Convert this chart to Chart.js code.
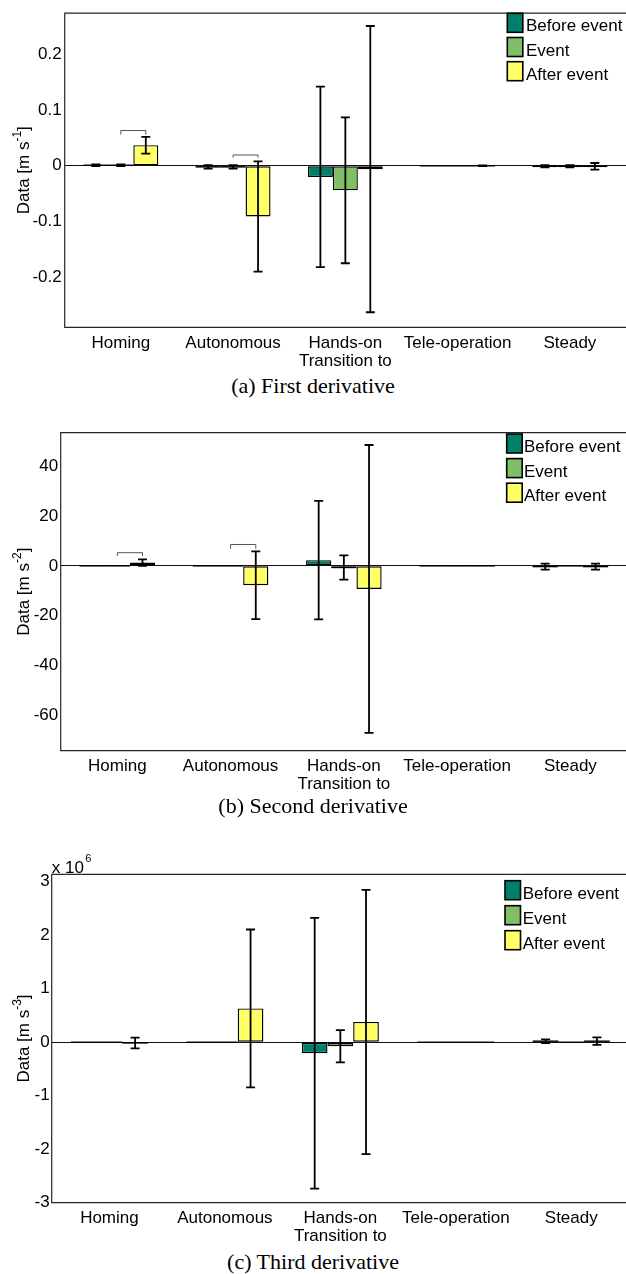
<!DOCTYPE html>
<html><head><meta charset="utf-8">
<script src="https://cdn.jsdelivr.net/npm/chart.js@4.4.1/dist/chart.umd.min.js"></script>
<style>
html,body{margin:0;padding:0;width:626px;height:1274px;overflow:hidden;background:#fff;}
.wrap{position:absolute;left:0;}
.wrap canvas{display:block;}
.cap{position:absolute;left:0;width:626px;text-align:center;font-family:"Liberation Serif","Times New Roman",serif;font-size:22px;line-height:22px;color:#000;white-space:nowrap;}
</style></head><body>
<div class="wrap" style="top:0px"><canvas id="c1" width="626" height="372"></canvas></div>
<div class="cap" style="top:375px">(a) First derivative</div>
<div class="wrap" style="top:420px"><canvas id="c2" width="627" height="375"></canvas></div>
<div class="cap" style="top:795px">(b) Second derivative</div>
<div class="wrap" style="top:840px"><canvas id="c3" width="629" height="405"></canvas></div>
<div class="cap" style="top:1251px">(c) Third derivative</div>
<script>
// ---------- shared ----------
const categories = ['Homing', 'Autonomous', ['Hands-on', 'Transition to'], 'Tele-operation', 'Steady'];
const seriesNames = ['Before event', 'Event', 'After event'];
const seriesColors = ['#00806a', '#80bf66', '#ffff66'];

// ---------- (a) First derivative [m s^-1] ----------
const firstBefore    = [0.001, -0.002, -0.020, 0, -0.001];
const firstBeforeErr = [0.0015, 0.003, 0.162, 0, 0.002];
const firstEvent     = [0.001, -0.002, -0.044, 0, -0.001];
const firstEventErr  = [0.0015, 0.003, 0.131, 0, 0.002];
const firstAfter     = [0.037, -0.091, -0.006, 0, -0.001];
const firstAfterErr  = [0.015, 0.099, 0.257, 0.0005, 0.006];
const firstTicks = [-0.2, -0.1, 0, 0.1, 0.2];
const firstBracketCats = [0, 1];
const firstBracketTop  = [0.0634, 0.0194];
const firstBracketFoot = [0.056, 0.0148];

// ---------- (b) Second derivative [m s^-2] ----------
const secondBefore    = [0, 0, 2.3, 0, -0.3];
const secondBeforeErr = [0, 0, 23.85, 0, 1.2];
const secondEvent     = [0, 0, -0.65, 0, 0];
const secondEventErr  = [0, 0, 4.85, 0, 0];
const secondAfter     = [1.35, -7.8, -9.3, 0, -0.3];
const secondAfterErr  = [1.3, 13.6, 57.95, 0, 1.2];
const secondTicks = [-60, -40, -20, 0, 20, 40];
const secondBracketCats = [0, 1];
const secondBracketTop  = [5.3, 8.6];
const secondBracketFoot = [4.0, 6.9];

// ---------- (c) Third derivative [m s^-3] ----------
const thirdBefore    = [0, 0, -2.05e5, 0, 2.0e4];
const thirdBeforeErr = [0, 0, 2.53e6, 0, 3.5e4];
const thirdEvent     = [0, 0, -7.5e4, 0, 0];
const thirdEventErr  = [0, 0, 3.03e5, 0, 0];
const thirdAfter     = [-1.3e4, 6.33e5, 3.8e5, 0, 2.0e4];
const thirdAfterErr  = [1.0e5, 1.475e6, 2.47e6, 0, 7.0e4];
const thirdTicks = [-3e6, -2e6, -1e6, 0, 1e6, 2e6, 3e6];

Chart.defaults.font.family = '"Liberation Sans", Arial, Helvetica, sans-serif';
Chart.defaults.font.size = 17;
Chart.defaults.color = '#000';

const SANS = '"Liberation Sans", Arial, Helvetica, sans-serif';

const decorPlugin = {
  id: 'decor',
  afterDatasetsDraw(chart, args, opts) {
    const ctx = chart.ctx, ys = chart.scales.y;
    ctx.save();
    // flat (near-zero) bar outlines
    chart.data.datasets.forEach((ds, i) => {
      chart.getDatasetMeta(i).data.forEach(el => {
        if (Math.abs(el.base - el.y) < 1.5) {
          ctx.strokeStyle = '#000'; ctx.lineWidth = 1.4;
          ctx.beginPath(); ctx.moveTo(el.x - el.width / 2, el.y); ctx.lineTo(el.x + el.width / 2, el.y); ctx.stroke();
        }
      });
    });
    // error bars
    chart.data.datasets.forEach((ds, i) => {
      chart.getDatasetMeta(i).data.forEach((el, j) => {
        const e = ds.errors[j];
        if (!e) return;
        const v = ds.data[j];
        const yt = ys.getPixelForValue(v + e), yb = ys.getPixelForValue(v - e);
        ctx.strokeStyle = '#000'; ctx.lineWidth = 1.8;
        ctx.beginPath();
        ctx.moveTo(el.x, yt); ctx.lineTo(el.x, yb);
        ctx.moveTo(el.x - 4.5, yt); ctx.lineTo(el.x + 4.5, yt);
        ctx.moveTo(el.x - 4.5, yb); ctx.lineTo(el.x + 4.5, yb);
        ctx.stroke();
      });
    });
    // significance brackets (between Event and After event bars)
    if (opts.bracketCats) {
      const m1 = chart.getDatasetMeta(1).data, m2 = chart.getDatasetMeta(2).data;
      opts.bracketCats.forEach((c, k) => {
        const x1 = m1[c].x, x2 = m2[c].x;
        const yt = ys.getPixelForValue(opts.bracketTop[k]), yf = ys.getPixelForValue(opts.bracketFoot[k]);
        ctx.strokeStyle = '#555'; ctx.lineWidth = 1;
        ctx.beginPath();
        ctx.moveTo(x1, yf); ctx.lineTo(x1, yt); ctx.lineTo(x2, yt); ctx.lineTo(x2, yf);
        ctx.stroke();
      });
    }
    ctx.restore();
  },
  afterDraw(chart, args, opts) {
    const ctx = chart.ctx, a = chart.chartArea;
    ctx.save();
    // axes box (right side lies at the page edge)
    ctx.strokeStyle = '#262626'; ctx.lineWidth = 1.2;
    ctx.beginPath();
    ctx.moveTo(a.right + 2, a.top); ctx.lineTo(a.left, a.top);
    ctx.lineTo(a.left, a.bottom); ctx.lineTo(a.right + 2, a.bottom);
    ctx.stroke();
    // legend
    const L = opts.legend;
    chart.data.datasets.forEach((ds, i) => {
      const by = L.y + i * L.step;
      ctx.fillStyle = ds.backgroundColor;
      ctx.fillRect(L.x, by, 15.5, 19);
      ctx.strokeStyle = '#000'; ctx.lineWidth = 1.6;
      ctx.strokeRect(L.x, by, 15.5, 19);
      ctx.fillStyle = '#000';
      ctx.font = '17px ' + SANS;
      ctx.textAlign = 'left'; ctx.textBaseline = 'alphabetic';
      ctx.fillText(ds.label, L.x + L.dx, by + 18);
    });
    // y-axis title with superscript
    const T = opts.ytitle;
    const cy = (a.top + a.bottom) / 2;
    ctx.font = '17px ' + SANS;
    const w1 = ctx.measureText(T.main).width;
    ctx.font = '12px ' + SANS;
    const w2 = ctx.measureText(T.sup).width;
    ctx.font = '17px ' + SANS;
    const w3 = ctx.measureText(']').width;
    const total = w1 + w2 + w3;
    ctx.translate(T.x, cy);
    ctx.rotate(-Math.PI / 2);
    ctx.textAlign = 'left'; ctx.textBaseline = 'alphabetic'; ctx.fillStyle = '#000';
    let px = -total / 2;
    ctx.font = '17px ' + SANS; ctx.fillText(T.main, px, 0); px += w1;
    ctx.font = '12px ' + SANS; ctx.fillText(T.sup, px, -8); px += w2;
    ctx.font = '17px ' + SANS; ctx.fillText(']', px, 0);
    ctx.setTransform(1, 0, 0, 1, 0, 0);
    // exponent label
    if (opts.exponent) {
      ctx.textAlign = 'left'; ctx.textBaseline = 'alphabetic';
      ctx.font = '17px ' + SANS;
      const base = 'x 10';
      ctx.fillText(base, a.left, a.top - 1.5);
      const bw = ctx.measureText(base).width;
      ctx.font = '11px ' + SANS;
      ctx.fillText(opts.exponent, a.left + bw + 1.5, a.top - 12);
    }
    ctx.restore();
  }
};

function makeChart(id, cfg) {
  const ds = [
    [cfg.before, cfg.beforeErr],
    [cfg.event, cfg.eventErr],
    [cfg.after, cfg.afterErr]
  ].map((p, i) => ({
    label: seriesNames[i],
    data: p[0],
    errors: p[1],
    backgroundColor: seriesColors[i],
    borderColor: '#000',
    borderWidth: 1.4,
    borderSkipped: false,
    categoryPercentage: 0.667,
    barPercentage: 1.0
  }));
  return new Chart(document.getElementById(id), {
    type: 'bar',
    data: { labels: categories, datasets: ds },
    plugins: [decorPlugin],
    options: {
      responsive: false,
      animation: false,
      layout: { padding: { top: cfg.padTop, left: 0, right: 0, bottom: 0 } },
      plugins: {
        legend: { display: false },
        tooltip: { enabled: false },
        decor: {
          legend: cfg.legend,
          ytitle: cfg.ytitle,
          exponent: cfg.exponent,
          bracketCats: cfg.bracketCats,
          bracketTop: cfg.bracketTop,
          bracketFoot: cfg.bracketFoot
        }
      },
      scales: {
        x: {
          afterFit(s) { s.height = cfg.xHeight; },
          grid: { display: false, drawTicks: false },
          border: { display: false },
          ticks: { padding: 7, autoSkip: false, maxRotation: 0, minRotation: 0, color: '#000',
                   font: { size: 17, lineHeight: 1.05 } }
        },
        y: {
          min: cfg.min, max: cfg.max,
          afterFit(s) { s.width = cfg.yWidth; },
          afterBuildTicks(s) { s.ticks = cfg.ticks.map(v => ({ value: v })); },
          grid: { drawTicks: false, lineWidth: 1,
                  color: c => (c.tick && c.tick.value === 0) ? '#111' : 'rgba(0,0,0,0)' },
          border: { display: false },
          ticks: { padding: cfg.tickPad, color: '#000', font: { size: 17 }, callback: cfg.fmt }
        }
      }
    }
  });
}

makeChart('c1', {
  before: firstBefore, beforeErr: firstBeforeErr,
  event: firstEvent, eventErr: firstEventErr,
  after: firstAfter, afterErr: firstAfterErr,
  ticks: firstTicks, min: -0.29, max: 0.274,
  fmt: v => String(Math.round(v * 10) / 10),
  padTop: 7.3, xHeight: 44.7, yWidth: 64.7, tickPad: 3,
  legend: { x: 507.3, y: 13.3, step: 24.2, dx: 18.7 },
  ytitle: { x: 28.5, main: 'Data [m s', sup: '-1' },
  bracketCats: firstBracketCats, bracketTop: firstBracketTop, bracketFoot: firstBracketFoot
});

makeChart('c2', {
  before: secondBefore, beforeErr: secondBeforeErr,
  event: secondEvent, eventErr: secondEventErr,
  after: secondAfter, afterErr: secondAfterErr,
  ticks: secondTicks, min: -74.4, max: 53.6,
  fmt: v => String(Math.round(v)),
  padTop: 7.3, xHeight: 44.3, yWidth: 60.7, tickPad: 2.5,
  legend: { x: 506.7, y: 14, step: 24.6, dx: 17.3 },
  ytitle: { x: 28.5, main: 'Data [m s', sup: '-2' },
  bracketCats: secondBracketCats, bracketTop: secondBracketTop, bracketFoot: secondBracketFoot
});

makeChart('c3', {
  before: thirdBefore, beforeErr: thirdBeforeErr,
  event: thirdEvent, eventErr: thirdEventErr,
  after: thirdAfter, afterErr: thirdAfterErr,
  ticks: thirdTicks, min: -3e6, max: 3.14e6,
  fmt: v => String(Math.round(v / 1e6)),
  padTop: 34.3, xHeight: 42.3, yWidth: 51.7, tickPad: 2,
  legend: { x: 505, y: 40.7, step: 25, dx: 17.7 },
  ytitle: { x: 28.5, main: 'Data [m s', sup: '-3' },
  exponent: '6'
});
</script>
</body></html>
